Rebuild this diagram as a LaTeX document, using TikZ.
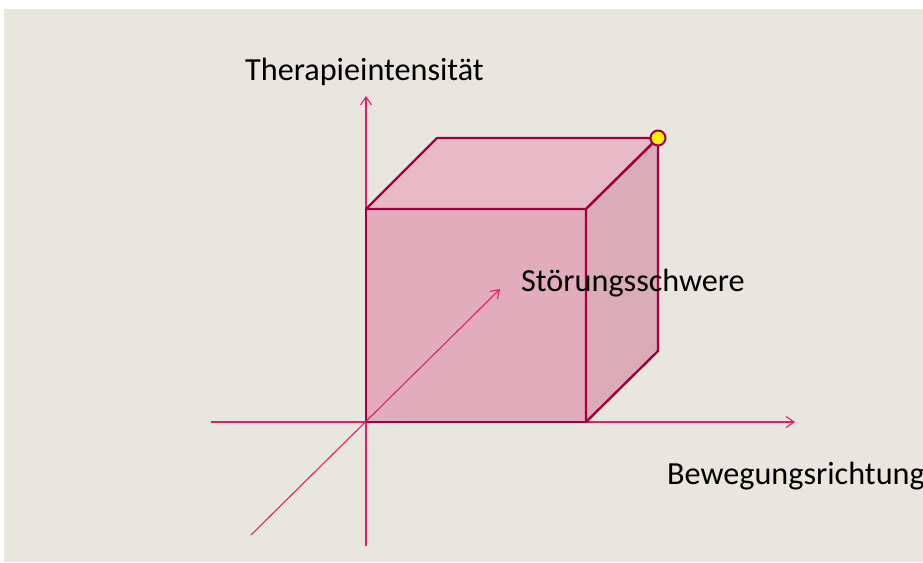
\documentclass[tikz,border=0pt]{standalone}
\usepackage{fontspec}
\setmainfont{Carlito}
\usetikzlibrary{arrows.meta}
\definecolor{paper}{RGB}{233,230,224}
\definecolor{edgecol}{RGB}{160,0,64}
\definecolor{axiscol}{RGB}{222,32,104}
\definecolor{frontcol}{RGB}{227,172,188}
\definecolor{topcol}{RGB}{232,186,199}
\definecolor{sidecol}{RGB}{217,172,184}
\tikzset{
  axisline/.style={draw=axiscol, line width=1.1pt, -{Straight Barb[length=8pt,width=11pt,line width=1.1pt]}},
  face/.style={draw=edgecol, line width=2.4pt, line join=round},
  label/.style={anchor=base west, inner sep=0pt, font=\fontsize{32.2}{38}\selectfont, text=black},
}
\begin{document}
\begin{tikzpicture}[x=1pt,y=-1pt]
  \useasboundingbox (0,0) rectangle (923,562);
  \fill[paper] (4,9) rectangle (923,562);

  % axis end points
  \coordinate (xL) at (211,422);
  \coordinate (xR) at (795,422);
  \coordinate (yB) at (366,546);
  \coordinate (yT) at (366,96);
  \coordinate (zB) at (251,535);
  \coordinate (zT) at (500,289);

  % horizontal and vertical axes
  \draw[axisline] (xL) -- (xR);
  \draw[axisline] (yB) -- (yT);

  % cube corners
  \coordinate (A) at (366,422);
  \coordinate (B) at (586,422);
  \coordinate (C) at (586,209);
  \coordinate (D) at (366,209);
  \coordinate (E) at (658,351);
  \coordinate (F) at (658,138);
  \coordinate (G) at (437,138);

  % cube faces
  \filldraw[face, fill=frontcol] (A) -- (B) -- (C) -- (D) -- cycle;
  \filldraw[face, fill=topcol] (D) -- (C) -- (F) -- (G) -- cycle;
  \filldraw[face, fill=sidecol] (B) -- (E) -- (F) -- (C) -- cycle;

  % depth axis
  \draw[axisline] (zB) -- (zT);

  % marker on the far corner
  \filldraw[fill=yellow, draw=edgecol, line width=2pt] (F) circle (7.5pt);

  % axis labels
  \node[label] (ylab) at (245,80) {Therapieintensität};
  \node[label] (zlab) at (521,291) {Störungsschwere};
  \node[label] (xlab) at (667,484) {Bewegungsrichtung};
\end{tikzpicture}
\end{document}
